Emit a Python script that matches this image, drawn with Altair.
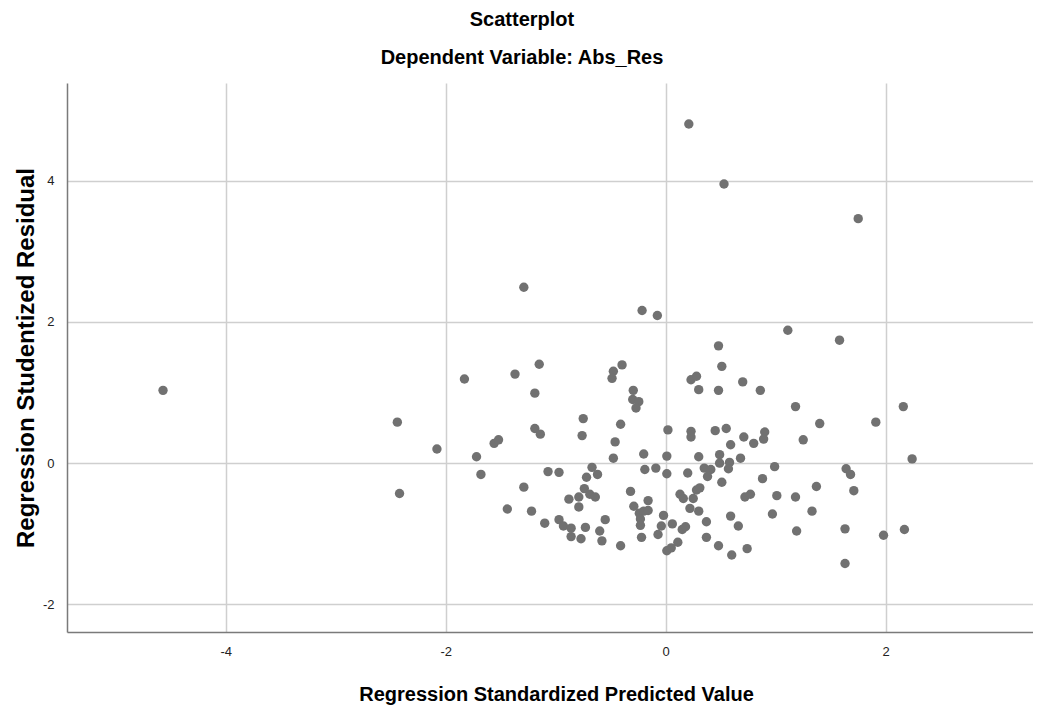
import altair as alt
import pandas as pd

pred = [-4.57, 0.21, 0.53, 1.75, -1.29, -0.215, -0.076, -1.83, -1.37, -1.15,
        -1.19, -0.476, -0.488, -0.397, -0.295, -0.30, -0.245, -0.27, -2.44, -2.08,
        -1.72, -1.56, -1.52, -1.68, -2.42, -1.19, -1.14, -0.75, -0.76, -0.41,
        -0.46, -0.476, -0.20, 0.02, 0.01, 0.23, 0.28, 0.30, 0.23, 0.23,
        0.30, -1.07, -0.97, -0.67, -0.62, -0.72, -1.29, -1.44, -1.22, -1.10,
        -0.97, -0.93, -0.86, -0.86, -0.77, -0.73, -0.88, -0.79, -0.79, -0.74,
        -0.69, -0.64, -0.60, -0.58, -0.55, -0.41, -0.32, -0.29, -0.24, -0.20,
        -0.16, -0.23, -0.23, -0.22, -0.16, -0.02, -0.04, -0.07, 0.06, 0.01,
        0.05, 0.11, 0.15, 0.18, 0.13, 0.16, 0.22, 0.28, 0.25, 0.20,
        0.01, -0.19, -0.09, 0.30, 1.11, 1.58, 0.48, 0.51, 0.48, 0.70,
        0.86, 1.18, 1.40, 1.91, 2.16, 2.24, 0.45, 0.55, 0.59, 0.71,
        0.80, 0.90, 0.89, 1.25, 0.49, 0.49, 0.58, 0.57, 0.68, 0.35,
        0.41, 0.38, 0.51, 0.99, 0.88, 1.64, 1.68, 1.71, 1.37, 0.31,
        0.72, 0.77, 1.01, 1.18, 0.97, 1.33, 0.37, 0.59, 0.66, 0.37,
        0.48, 0.60, 0.74, 1.19, 1.63, 1.98, 2.17, 1.63]

resid = [1.03, 4.80, 3.95, 3.46, 2.49, 2.16, 2.09, 1.19, 1.26, 1.40,
         0.99, 1.30, 1.20, 1.39, 1.03, 0.90, 0.87, 0.78, 0.58, 0.20,
         0.09, 0.28, 0.33, -0.16, -0.43, 0.49, 0.41, 0.63, 0.39, 0.55,
         0.30, 0.07, 0.13, 0.47, 0.10, 1.18, 1.23, 1.04, 0.45, 0.37,
         0.09, -0.12, -0.13, -0.06, -0.16, -0.20, -0.34, -0.65, -0.68, -0.85,
         -0.80, -0.89, -0.92, -1.04, -1.07, -0.91, -0.51, -0.48, -0.62, -0.36,
         -0.44, -0.48, -0.96, -1.10, -0.80, -1.17, -0.40, -0.61, -0.71, -0.68,
         -0.53, -0.79, -0.88, -1.05, -0.67, -0.74, -0.89, -1.01, -0.86, -1.24,
         -1.20, -1.12, -0.94, -0.90, -0.44, -0.50, -0.64, -0.38, -0.50, -0.14,
         -0.15, -0.09, -0.07, -0.68, 1.88, 1.74, 1.66, 1.37, 1.03, 1.15,
         1.03, 0.80, 0.56, 0.58, 0.80, 0.06, 0.46, 0.49, 0.26, 0.37,
         0.28, 0.44, 0.34, 0.33, 0.12, 0.00, 0.01, -0.08, 0.07, -0.07,
         -0.09, -0.19, -0.27, -0.05, -0.22, -0.08, -0.16, -0.39, -0.33, -0.35,
         -0.48, -0.44, -0.46, -0.48, -0.72, -0.68, -0.83, -0.75, -0.89, -1.05,
         -1.17, -1.30, -1.21, -0.96, -0.93, -1.02, -0.94, -1.42]

x_ticks = [-4, -2, 0, 2]
y_ticks = [-2, 0, 2, 4]

df = pd.DataFrame({"pred": pred, "resid": resid})

FONT = "Liberation Sans"

chart = alt.Chart(df).mark_circle(size=88, color="#717171", opacity=1).encode(
    x=alt.X("pred:Q",
            scale=alt.Scale(domain=[-5.443, 3.339], nice=False, zero=False),
            axis=alt.Axis(values=x_ticks, title="Regression Standardized Predicted Value",
                          titleX=489, titleY=68, titleBaseline="alphabetic",
                          titleAlign="center",
                          labelExpr="'' + datum.value")),
    y=alt.Y("resid:Q",
            scale=alt.Scale(domain=[-2.39, 5.38], nice=False, zero=False),
            axis=alt.Axis(values=y_ticks, title="Regression Studentized Residual",
                          titleX=-34, titleBaseline="alphabetic", titleFontSize=24,
                          labelExpr="'' + datum.value")),
).properties(
    width=966,
    height=549,
    autosize=alt.AutoSizeParams(type="none"),
    padding={"left": 59, "top": 75, "right": 0, "bottom": 75},
    title=alt.TitleParams(
        text="Scatterplot",
        subtitle="Dependent Variable: Abs_Res",
        font=FONT, fontSize=20, fontWeight="bold", color="#000000",
        subtitleFont=FONT, subtitleFontSize=20, subtitleFontWeight="bold",
        subtitleColor="#000000", subtitlePadding=18,
        anchor="middle", dx=-28, offset=15,
    ),
).configure_view(
    stroke=None
).configure_axis(
    grid=True,
    gridColor="#cfcfcf",
    gridWidth=1.5,
    domainColor="#7a7a7a",
    domainWidth=1.5,
    ticks=False,
    labelFont=FONT,
    labelFontSize=13,
    labelColor="#222222",
    labelPadding=13,
    titleFont=FONT,
    titleFontSize=20,
    titleFontWeight="bold",
    titleColor="#000000",
)

chart.save("out.html", embed_options={"renderer": "svg", "actions": False})
